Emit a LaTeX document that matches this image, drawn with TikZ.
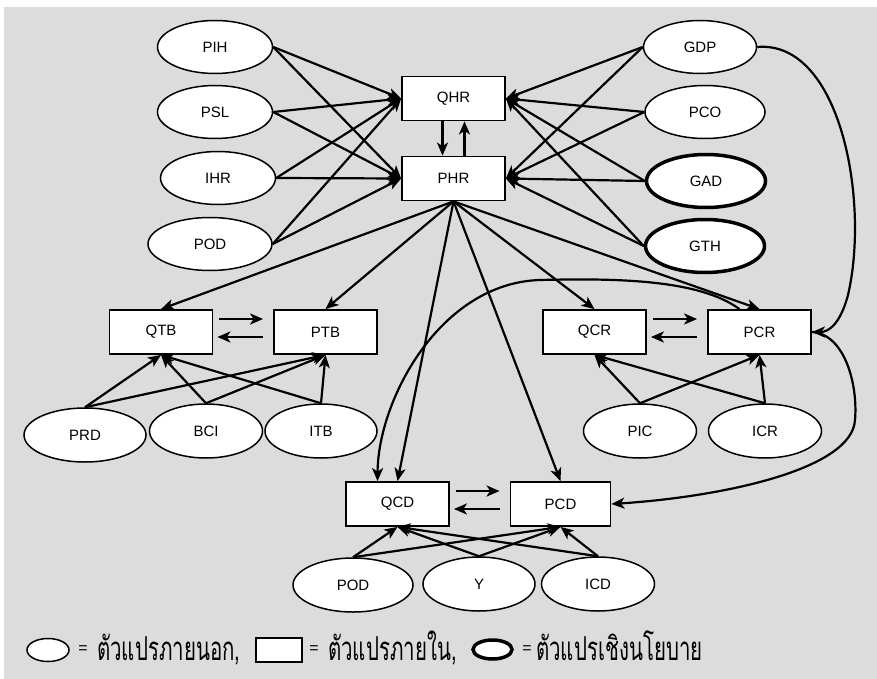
\documentclass[tikz,border=0pt]{standalone}
\usepackage{fontspec}
\setmainfont{Liberation Sans}
\newfontfamily\thaifont[Script=Thai,FakeStretch=0.62]{Loma}
\usetikzlibrary{arrows.meta,shapes.geometric}
\definecolor{bgc}{RGB}{220,220,220}
\begin{document}
\begin{tikzpicture}[x=1pt,y=-1pt,
  ell/.style={ellipse, draw, fill=white, line width=1.5pt, minimum width=115pt, minimum height=53pt, inner sep=0pt, font=\fontsize{15}{17}\selectfont},
  pol/.style={ell, line width=3.5pt},
  box/.style={rectangle, draw, fill=white, line width=1.8pt, minimum width=103pt, minimum height=44pt, inner sep=0pt, font=\fontsize{15}{17}\selectfont},
  arr/.style={line width=2.2pt, -{Stealth[length=13pt,width=11pt,inset=3.5pt]}},
  eqs/.style={inner sep=0pt, font=\fontsize{16}{18}\selectfont},
  legtxt/.style={anchor=base west, inner sep=0pt, font=\thaifont\fontsize{33}{36}\selectfont},
]
\fill[white] (0,0) rectangle (877,679);
\fill[bgc] (4,7) rectangle (877,679);
\useasboundingbox (0,0) rectangle (877,679);

% top left inputs
\node[ell] (PIH) at (215,47) {PIH};
\node[ell] (PSL) at (215,112) {PSL};
\node[ell] (IHR) at (218,178) {IHR};
\node[ell, minimum width=124pt] (PODa) at (210,244) {POD};
% top right inputs
\node[ell, minimum width=113pt] (GDP) at (700,47) {GDP};
\node[ell, minimum width=120pt] (PCO) at (705,112) {PCO};
\node[pol, minimum width=119pt] (GAD) at (706,181) {GAD};
\node[pol, minimum width=119pt] (GTH) at (705,246) {GTH};
% central boxes
\node[box] (QHR) at (453.5,98.5) {QHR};
\node[box] (PHR) at (453.5,178.5) {PHR};
\node[box] (QTB) at (161,332) {QTB};
\node[box] (PTB) at (325.5,332) {PTB};
\node[box] (QCR) at (594.5,332) {QCR};
\node[box] (PCR) at (759.5,332) {PCR};
\node[box] (QCD) at (397.5,504) {QCD};
\node[box, minimum width=100pt] (PCD) at (560.5,504) {PCD};
% lower inputs
\node[ell, minimum width=122pt, minimum height=54pt] (PRD) at (85,435) {PRD};
\node[ell, minimum width=113pt, minimum height=54pt] (BCI) at (206,431) {BCI};
\node[ell, minimum width=112pt, minimum height=54pt] (ITB) at (321,431) {ITB};
\node[ell, minimum width=113pt, minimum height=54pt] (PIC) at (640,431) {PIC};
\node[ell, minimum width=113pt, minimum height=54pt] (ICR) at (765,431) {ICR};
\node[ell, minimum width=120pt, minimum height=54pt] (PODb) at (353,585) {POD};
\node[ell, minimum width=112pt, minimum height=54pt] (Y) at (479,584) {Y};
\node[ell, minimum width=113pt, minimum height=54pt] (ICD) at (598,584) {ICD};

% edges into QHR / PHR
\foreach \s in {PIH,PSL,IHR,PODa} {
  \draw[arr] (\s.east) -- (QHR.west);
  \draw[arr] (\s.east) -- (PHR.west);
}
\foreach \s in {GDP,PCO,GAD,GTH} {
  \draw[arr] (\s.west) -- (QHR.east);
  \draw[arr] (\s.west) -- (PHR.east);
}
\draw[arr] ([xshift=-11pt]QHR.south) -- ([xshift=-11pt]PHR.north);
\draw[arr] ([xshift=11pt]PHR.north) -- ([xshift=11pt]QHR.south);

% PHR outputs
\foreach \t in {QTB,PTB,QCR,PCR,QCD,PCD} {
  \draw[arr] (PHR.south) -- (\t.north);
}

% pair arrows
\draw[arr] ([xshift=6pt,yshift=13pt]QTB.east) -- ([xshift=-10pt,yshift=13pt]PTB.west);
\draw[arr] ([xshift=-10pt,yshift=-5pt]PTB.west) -- ([xshift=4pt,yshift=-5pt]QTB.east);
\draw[arr] ([xshift=6pt,yshift=13pt]QCR.east) -- ([xshift=-10pt,yshift=13pt]PCR.west);
\draw[arr] ([xshift=-10pt,yshift=-5pt]PCR.west) -- ([xshift=4pt,yshift=-5pt]QCR.east);
\draw[arr] ([xshift=6pt,yshift=13pt]QCD.east) -- ([xshift=-10pt,yshift=13pt]PCD.west);
\draw[arr] ([xshift=-10pt,yshift=-5pt]PCD.west) -- ([xshift=4pt,yshift=-5pt]QCD.east);

% lower inputs
\foreach \s in {PRD,BCI,ITB} {
  \draw[arr] (\s.north) -- (QTB.south);
  \draw[arr] (\s.north) -- (PTB.south);
}
\foreach \s in {PIC,ICR} {
  \draw[arr] (\s.north) -- (QCR.south);
  \draw[arr] (\s.north) -- (PCR.south);
}
\foreach \s in {PODb,Y,ICD} {
  \draw[arr] (\s.north) -- (QCD.south);
  \draw[arr] (\s.north) -- (PCD.south);
}

% curves
\draw[arr] (GDP.east) .. controls (840,40) and (870,200) .. (848,295) .. controls (840,325) and (828,332) .. (PCR.east);
\draw[arr] (PCR.east) .. controls (845,334) and (858,385) .. (855,420) .. controls (852,470) and (720,497) .. (PCD.east);
\draw[arr] ([xshift=-20pt]PCR.north) .. controls (700,280) and (620,278) .. (540,280) .. controls (440,283) and (378,400) .. ([xshift=-20pt]QCD.north);

% legend
\node[ellipse, draw, fill=white, line width=1.5pt, minimum width=42pt, minimum height=23pt, inner sep=0pt] (L1) at (48,650) {};
\node[eqs] (E1) at (83,650) {=};
\node[legtxt] (T1) at (97,660) {ตัวแปรภายนอก,};
\node[rectangle, draw, fill=white, line width=1.5pt, minimum width=46pt, minimum height=24pt, inner sep=0pt] (L2) at (279,650) {};
\node[eqs] (E2) at (314,650) {=};
\node[legtxt] (T2) at (328,660) {ตัวแปรภายใน,};
\node[ellipse, draw, fill=white, line width=3.5pt, minimum width=39pt, minimum height=19pt, inner sep=0pt] (L3) at (492.5,649.5) {};
\node[eqs] (E3) at (527,650) {=};
\node[legtxt] (T3) at (536,660) {ตัวแปรเชิงนโยบาย};
\end{tikzpicture}
\end{document}
